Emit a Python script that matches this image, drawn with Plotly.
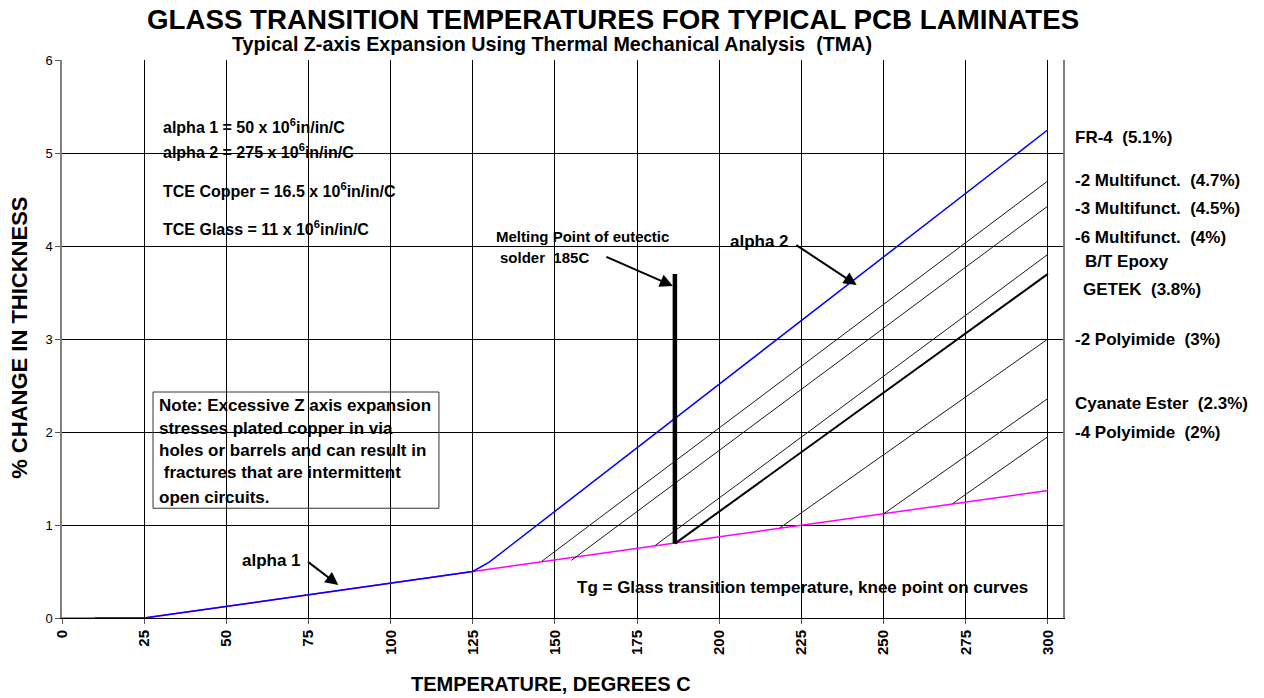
import plotly.graph_objects as go

# ---------------- data ----------------
base_x = [0, 25, 125, 300]                 # alpha-1 baseline (magenta)
base_y = [0, 0, 0.5, 1.37]

fr4_x = [10, 25, 125, 130, 300]            # FR-4 (blue)
fr4_y = [0, 0, 0.5, 0.6, 5.25]

tg_start_x = [146, 155, 180.5, 186.5, 218.5, 250, 271]
tg_start_y = [0.61, 0.62, 0.78, 0.80, 0.97, 1.12, 1.23]
tg_end_x = [300, 300, 300, 300, 300, 300, 300]
tg_end_y = [4.70, 4.43, 3.91, 3.70, 3.00, 2.36, 1.95]
thick_index = 3

solder_x = [186.5, 186.5]
solder_y = [0.80, 3.70]

x_ticks = [0, 25, 50, 75, 100, 125, 150, 175, 200, 225, 250, 275, 300]
y_ticks = [0, 1, 2, 3, 4, 5, 6]

material_labels = ["FR-4\u00a0\u00a0(5.1%)", "-2 Multifunct.\u00a0\u00a0(4.7%)",
                   "-3 Multifunct.\u00a0\u00a0(4.5%)", "-6 Multifunct.\u00a0\u00a0(4%)",
                   "B/T Epoxy", "GETEK\u00a0\u00a0(3.8%)", "-2 Polyimide\u00a0\u00a0(3%)",
                   "Cyanate Ester\u00a0\u00a0(2.3%)", "-4 Polyimide\u00a0\u00a0(2%)"]

formula_labels = ["alpha 1 = 50 x 10<sup>6</sup>in/in/C",
                  "alpha 2 = 275 x 10<sup>6</sup>in/in/C",
                  "TCE Copper = 16.5 x 10<sup>6</sup>in/in/C",
                  "TCE Glass = 11 x 10<sup>6</sup>in/in/C"]

note_lines = ["Note: Excessive Z axis expansion",
              "stresses plated copper in via",
              "holes or barrels and can result in",
              "\u00a0fractures that are intermittent",
              "open circuits."]

FONT = "Liberation Sans, Arial, sans-serif"

fig = go.Figure()

fig.add_trace(go.Scatter(x=base_x, y=base_y, mode="lines",
                         line=dict(color="#FF00FF", width=1.5), hoverinfo="skip"))
fig.add_trace(go.Scatter(x=fr4_x, y=fr4_y, mode="lines",
                         line=dict(color="#0000FF", width=1.5), hoverinfo="skip"))

for i in range(len(tg_start_x)):
    w = 2 if i == thick_index else 1
    c = "#000000" if i == thick_index else "#1a1a1a"
    fig.add_trace(go.Scatter(x=[tg_start_x[i], tg_end_x[i]], y=[tg_start_y[i], tg_end_y[i]],
                             mode="lines", line=dict(color=c, width=w), hoverinfo="skip"))

fig.add_trace(go.Scatter(x=solder_x, y=solder_y, mode="lines",
                         line=dict(color="#000000", width=4.5), hoverinfo="skip"))

ann = []

def txt(x, y, s, size=17, xanchor="left", weight="bold", xref="x", yref="y"):
    ann.append(dict(x=x, y=y, xref=xref, yref=yref, text=s, showarrow=False,
                    xanchor=xanchor, yanchor="middle",
                    font=dict(family=FONT, size=size, color="#000", weight=weight)))

# right-side material labels (x in plot-fraction, y in data units)
label_pos = [(1.010, 5.17), (1.010, 4.70), (1.010, 4.40), (1.010, 4.09),
             (1.020, 3.83), (1.018, 3.53), (1.010, 2.99), (1.010, 2.31), (1.010, 1.99)]
for s, (x, y) in zip(material_labels, label_pos):
    txt(x, y, s, xref="paper")

# formulas
for s, y in zip(formula_labels, [5.29, 5.02, 4.60, 4.19]):
    txt(30.1, y, s, size=16)

# note box text
for s, y in zip(note_lines, [2.29, 2.04, 1.80, 1.56, 1.30]):
    txt(28.9, y, s)

txt(156.1, 0.333, "Tg = Glass transition temperature, knee point on curves")
txt(131.4, 4.10, "Melting Point of eutectic", size=15)
txt(132.7, 3.88, "solder\u00a0\u00a0185C", size=15)
txt(202.6, 4.05, "alpha 2")
txt(54.2, 0.62, "alpha 1")

# arrows
for (hx, hy, tx, ty) in [(185.9, 3.57, 165.2, 3.89),
                         (241.8, 3.58, 223.0, 4.02),
                         (84.1, 0.355, 74.4, 0.616)]:
    ann.append(dict(x=hx, y=hy, ax=tx, ay=ty, xref="x", yref="y", axref="x", ayref="y",
                    text="", showarrow=True, arrowhead=2, arrowsize=1.3, arrowwidth=2,
                    arrowcolor="#000", standoff=0, startstandoff=0))

# titles
txt(0.5505, 1.0717, "GLASS TRANSITION TEMPERATURES FOR TYPICAL PCB LAMINATES",
    size=27.7, xanchor="center", xref="paper", yref="paper")
txt(0.4895, 1.0287, "Typical Z-axis Expansion Using Thermal Mechanical Analysis\u00a0\u00a0(TMA)",
    size=19.7, xanchor="center", xref="paper", yref="paper")
txt(0.4885, -0.118, "TEMPERATURE, DEGREES C", size=20, xanchor="center",
    xref="paper", yref="paper")
ann.append(dict(x=-0.042, y=0.502, xref="paper", yref="paper",
                text="% CHANGE IN THICKNESS", showarrow=False, textangle=-90,
                xanchor="center", yanchor="middle",
                font=dict(family=FONT, size=22, color="#000", weight="bold")))

fig.update_layout(
    width=1256, height=690,
    margin=dict(l=54, r=201, t=52, b=80),
    paper_bgcolor="white", plot_bgcolor="white",
    showlegend=False,
    annotations=ann,
    shapes=[dict(type="rect", xref="x", yref="y", x0=27.7, x1=114.7, y0=1.18, y1=2.43,
                 line=dict(color="#333", width=1), fillcolor="rgba(0,0,0,0)")],
    xaxis=dict(range=[0, 304.6], tickmode="array", tickvals=x_ticks,
               ticktext=[str(v) for v in x_ticks], tickangle=-90,
               tickfont=dict(family=FONT, size=15, color="#000", weight="bold"),
               showgrid=True, gridcolor="#000", gridwidth=1,
               showline=True, linecolor="#000", linewidth=1,
               ticks="outside", ticklen=5, tickcolor="#555",
               zeroline=False, fixedrange=True),
    yaxis=dict(range=[0, 6], tickmode="array", tickvals=y_ticks,
               tickfont=dict(family=FONT, size=13, color="#000"),
               showgrid=True, gridcolor="#000", gridwidth=1,
               showline=True, linecolor="#808080", linewidth=1.5, mirror=True,
               ticks="outside", ticklen=5, tickcolor="#555",
               zeroline=False, fixedrange=True),
)

fig.write_html("out.html")
